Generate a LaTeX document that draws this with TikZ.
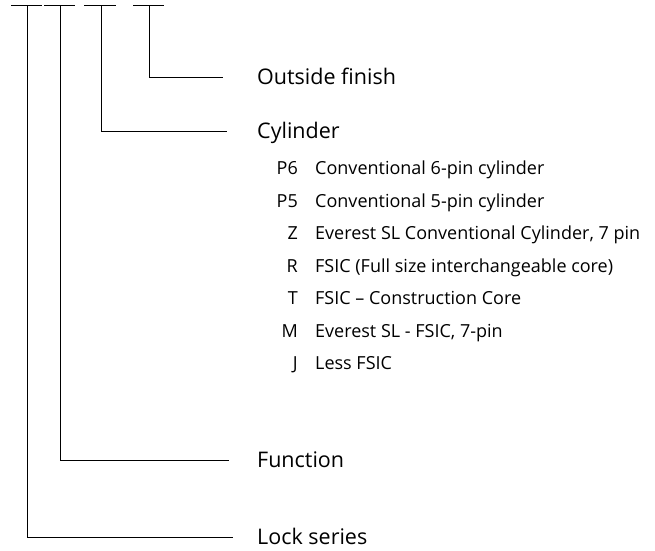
\documentclass[tikz,border=0pt]{standalone}
\usepackage{fontspec}
\setmainfont{Open Sans}
\usepackage{tikz}

\begin{document}
\begin{tikzpicture}[x=1pt, y=-1pt,
    lead/.style={draw=black, line width=0.8pt},
    head/.style={anchor=west, inner sep=0pt, text height=15.5pt, text depth=0pt,
        font=\fontsize{21.5}{25}\selectfont},
    code/.style={anchor=east, inner sep=0pt, text height=12.8pt, text depth=0pt,
        font=\fontsize{18}{21}\selectfont},
    desc/.style={anchor=west, inner sep=0pt, text height=12.8pt, text depth=0pt,
        font=\fontsize{18}{21}\selectfont}]
    \useasboundingbox (0,0) rectangle (655,550);

    % the four segments of the code
    \coordinate (seg1) at (27,5);
    \coordinate (seg2) at (60,5);
    \coordinate (seg3) at (101,5);
    \coordinate (seg4) at (149,5);
    \draw[lead] ([xshift=-16pt]seg1) -- ([xshift=15pt]seg1);
    \draw[lead] ([xshift=-16pt]seg2) -- ([xshift=15pt]seg2);
    \draw[lead] ([xshift=-17pt]seg3) -- ([xshift=15pt]seg3);
    \draw[lead] ([xshift=-16pt]seg4) -- ([xshift=15pt]seg4);

    \node[head] (finish) at (257,77) {Outside finish};
    \node[head] (cyl) at (257,131) {Cylinder};
    \node[head] (func) at (257,460) {Function};
    \node[head] (series) at (257,537) {Lock series};

    \node[code] (p6) at (298,168) {P6};
    \node[desc] (p6d) at (315,168) {Conventional 6-pin cylinder};
    \node[code] (p5) at (298,201) {P5};
    \node[desc] (p5d) at (315,201) {Conventional 5-pin cylinder};
    \node[code] (z) at (298,233) {Z};
    \node[desc] (zd) at (315,233) {Everest SL Conventional Cylinder, 7 pin};
    \node[code] (r) at (298,266) {R};
    \node[desc] (rd) at (315,266) {FSIC (Full size interchangeable core)};
    \node[code] (t) at (298,298) {T};
    \node[desc] (td) at (315,298) {FSIC – Construction Core};
    \node[code] (m) at (298,331) {M};
    \node[desc] (md) at (315,331) {Everest SL - FSIC, 7-pin};
    \node[code] (j) at (298,363) {J};
    \node[desc] (jd) at (315,363) {Less FSIC};

    \draw[lead] (seg4) |- ([xshift=-34pt]finish.west);
    \draw[lead] (seg3) |- ([xshift=-30pt]cyl.west);
    \draw[lead] (seg2) |- ([xshift=-28pt]func.west);
    \draw[lead] (seg1) |- ([xshift=-24pt]series.west);
\end{tikzpicture}
\end{document}
